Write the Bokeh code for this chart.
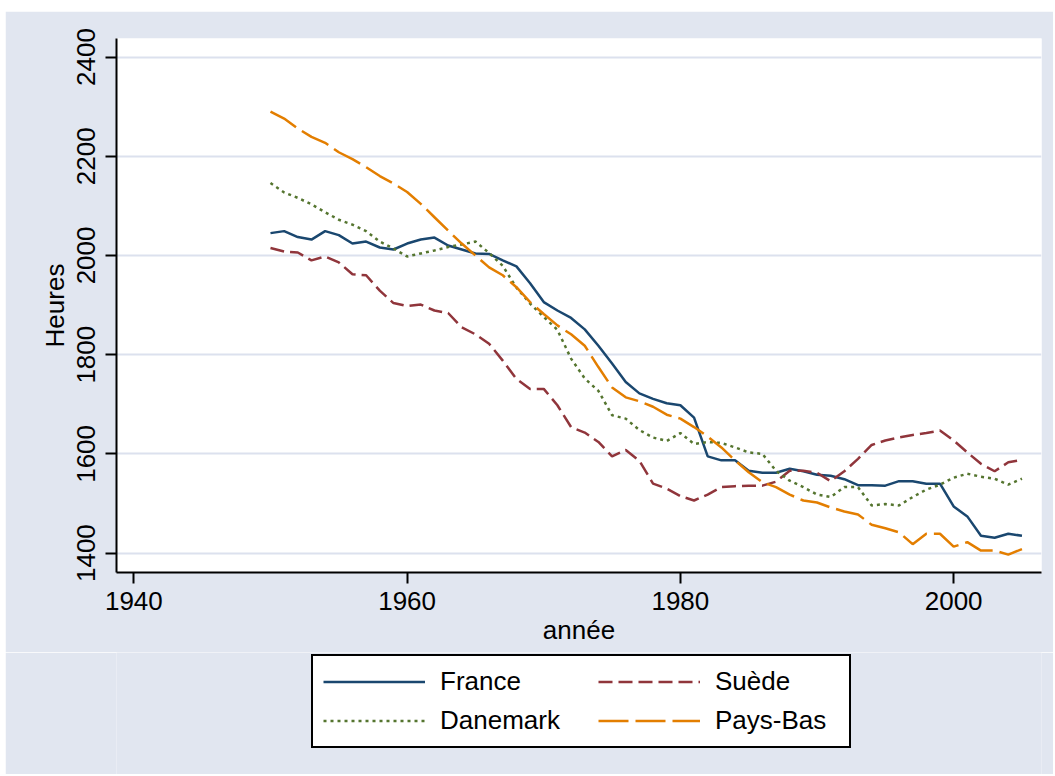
from bokeh.plotting import figure
from bokeh.layouts import column
from bokeh.models import Range1d, FixedTicker, Legend, LegendItem
from bokeh.embed import file_html
from bokeh.resources import INLINE

years = list(range(1950, 2006))
france = [2045, 2049, 2037, 2032, 2049, 2041, 2024, 2028, 2016, 2012,
          2024, 2032, 2036, 2020, 2012, 2004, 2003, 1990, 1978, 1944,
          1906, 1889, 1874, 1851, 1818, 1782, 1745, 1722, 1711, 1702,
          1698, 1673, 1595, 1587, 1587, 1566, 1562, 1562, 1570, 1565,
          1558, 1556, 1549, 1537, 1537, 1536, 1545, 1545, 1540, 1540,
          1494, 1474, 1435, 1431, 1439, 1435]
suede = [2015, 2008, 2006, 1990, 1998, 1986, 1962, 1960, 1929, 1904,
         1898, 1901, 1889, 1884, 1855, 1841, 1822, 1788, 1751, 1731,
         1731, 1698, 1654, 1643, 1624, 1595, 1608, 1586, 1540, 1530,
         1515, 1506, 1518, 1533, 1535, 1536, 1536, 1544, 1566, 1566,
         1562, 1545, 1565, 1590, 1618, 1627, 1633, 1638, 1642, 1647,
         1627, 1603, 1580, 1565, 1583, 1588]
danemark = [2146, 2127, 2116, 2103, 2087, 2072, 2062, 2049, 2028, 2014,
            1998, 2004, 2010, 2017, 2022, 2028, 2005, 1979, 1935, 1903,
            1876, 1850, 1792, 1752, 1727, 1678, 1671, 1648, 1633, 1626,
            1642, 1620, 1624, 1622, 1613, 1603, 1600, 1566, 1546, 1533,
            1518, 1513, 1533, 1533, 1496, 1499, 1496, 1513, 1528, 1538,
            1552, 1560, 1554, 1550, 1538, 1550]
pays_bas = [2290, 2276, 2256, 2239, 2227, 2208, 2194, 2178, 2160, 2145,
            2128, 2104, 2077, 2050, 2024, 2000, 1976, 1960, 1936, 1906,
            1882, 1859, 1841, 1818, 1775, 1734, 1714, 1706, 1695, 1679,
            1671, 1654, 1635, 1613, 1587, 1563, 1543, 1533, 1518, 1506,
            1502, 1492, 1484, 1478, 1457, 1450, 1442, 1418, 1439, 1439,
            1413, 1422, 1405, 1405, 1397, 1408]

countries = ["France", "Suède", "Danemark", "Pays-Bas"]
x_ticks = [1940, 1960, 1980, 2000]
y_ticks = [1400, 1600, 1800, 2000, 2200, 2400]

FONT = "Liberation Sans"
BG = "#E1E6F0"
STYLES = {
    "France": dict(line_color="#1A476F", line_width=2.5),
    "Suède": dict(line_color="#90353B", line_width=2.5, line_dash="14 6"),
    "Danemark": dict(line_color="#55752F", line_width=2.5, line_dash="3 4"),
    "Pays-Bas": dict(line_color="#E37E00", line_width=2.5, line_dash="30 7"),
}
series = dict(zip(countries, [france, suede, danemark, pays_bas]))

p = figure(frame_width=925, frame_height=534, output_backend="svg", toolbar_location=None,
           x_range=Range1d(1938.73, 2006.43), y_range=Range1d(1360.9, 2437.3),
           min_border_left=111, min_border_right=12, min_border_top=27,
           min_border_bottom=80)
p.background_fill_color = "white"
p.border_fill_color = BG
p.outline_line_color = None

p.xaxis.ticker = FixedTicker(ticks=x_ticks)
p.yaxis.ticker = FixedTicker(ticks=y_ticks)
p.xgrid.visible = False
p.ygrid.grid_line_color = "#DCE1EE"
p.ygrid.grid_line_width = 2

for ax in (p.xaxis[0], p.yaxis[0]):
    ax.axis_line_width = 2
    ax.axis_line_color = "black"
    ax.major_tick_line_width = 2
    ax.major_tick_out = 11
    ax.major_tick_in = 0
    ax.minor_tick_line_color = None
    ax.major_label_text_font = FONT
    ax.major_label_text_font_size = "26px"
    ax.major_label_text_color = "black"
    ax.axis_label_text_font = FONT
    ax.axis_label_text_font_size = "26px"
    ax.axis_label_text_font_style = "normal"
    ax.axis_label_text_color = "black"

p.xaxis.major_label_standoff = 8
p.yaxis.major_label_standoff = 10
p.xaxis.axis_label = "année"
p.xaxis.axis_label_standoff = 2
p.yaxis.axis_label = "Heures"
p.yaxis.axis_label_standoff = 5
p.yaxis.major_label_orientation = "vertical"

for name in countries:
    p.line(years, series[name], **STYLES[name])

# legend panel: a second figure with the same frame geometry; its lines lie
# outside its ranges and only serve as legend keys
p2 = figure(frame_width=925, frame_height=122, output_backend="svg", toolbar_location=None,
            x_range=Range1d(0, 1), y_range=Range1d(0, 1),
            x_axis_type=None, y_axis_type=None,
            min_border_left=111, min_border_right=12, min_border_top=0, min_border_bottom=0)
p2.background_fill_color = BG
p2.border_fill_color = BG
p2.outline_line_color = None
p2.grid.visible = False

proxies = {name: p2.line(years, series[name], **STYLES[name]) for name in countries}


def make_legend(names, loc, boxed, lw):
    lg = Legend(items=[LegendItem(label=n, renderers=[proxies[n]]) for n in names],
                location=loc)
    lg.label_text_font = FONT
    lg.label_text_font_size = "26px"
    lg.label_text_color = "black"
    lg.glyph_width = 102
    lg.glyph_height = 31
    lg.label_height = 31
    lg.label_standoff = 15
    lg.label_width = lw
    lg.padding = 10
    lg.spacing = 8
    lg.margin = 0
    lg.border_line_color = "black"
    lg.border_line_width = 2
    lg.background_fill_color = "white"
    if boxed:
        lg.border_line_alpha = 1
        lg.background_fill_alpha = 1
    else:
        lg.border_line_alpha = 0
        lg.background_fill_alpha = 0
    return lg


p2.add_layout(make_legend(["France", "Danemark"], (195, 26), True, 399))
p2.add_layout(make_legend(["Suède", "Pays-Bas"], (472, 28), False, 117))

layout = column(p, p2, spacing=0)
layout.margin = (11, 0, 0, 5)

open("out.html", "w").write(file_html(layout, INLINE))
